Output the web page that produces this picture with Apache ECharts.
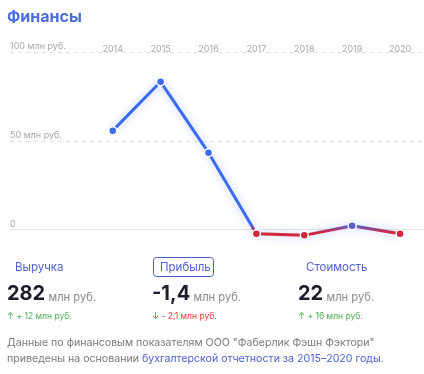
<!DOCTYPE html>
<html>
<head>
<meta charset="utf-8">
<script src="https://cdn.jsdelivr.net/npm/echarts@6/dist/echarts.min.js"></script>
<style>
html,body{margin:0;padding:0;background:#fff;}
#chart{width:424px;height:374px;}
</style>
</head>
<body>
<div id="chart"></div>
<script>
var years = ['2014', '2015', '2016', '2017', '2018', '2019', '2020'];
var profit = [55.7, 83.2, 43.3, -2.4, -3.3, 2.1, -2.4];
var yTicks = {0: '0', 50: '50 млн руб.', 100: '100 млн руб.'};

var FONT = 'Inter, Roboto, "Noto Sans", sans-serif';
var chart = echarts.init(document.getElementById('chart'), null, {renderer: 'canvas'});

var gTop = 52, gBottom = 144.5;
var valRich = {
  a: {font: 'bold 20px ' + FONT, fill: '#1d1d2b', verticalAlign: 'bottom'},
  b: {font: '11.2px ' + FONT, fill: '#8a8a8a', verticalAlign: 'bottom', padding: [0, 0, 1, 0]}
};

chart.setOption({
  animation: false,
  grid: [
    {left: 10, right: 0, top: gTop, bottom: gBottom},
    {left: 88.8, width: 338.4, top: gTop, bottom: gBottom}
  ],
  xAxis: [
    {gridIndex: 0, type: 'value', min: 0, max: 1,
     axisLine: {show: true, lineStyle: {color: '#e6e6e6', width: 1}},
     axisTick: {show: false}, axisLabel: {show: false}, splitLine: {show: false}},
    {gridIndex: 1, type: 'category', data: years, position: 'top', boundaryGap: true,
     axisLine: {show: false}, axisTick: {show: false}, splitLine: {show: false},
     axisLabel: {color: '#a8a8a8', fontSize: 9, fontFamily: FONT, margin: -2, verticalAlign: 'bottom'}}
  ],
  yAxis: [
    {gridIndex: 0, type: 'value', min: 0, max: 100, interval: 50,
     axisLine: {show: false}, axisTick: {show: false},
     splitLine: {show: true, lineStyle: {color: '#e0e0e0', type: [4, 4], width: 1}},
     axisLabel: {inside: true, margin: 0, align: 'left', verticalAlign: 'bottom',
       color: '#a8a8a8', fontSize: 9, fontFamily: FONT, padding: [0, 0, 1, 0],
       formatter: function (v) { return yTicks[v] !== undefined ? yTicks[v] : ''; }}},
    {gridIndex: 1, type: 'value', min: 0, max: 100, show: false}
  ],
  visualMap: {
    type: 'continuous', show: false, seriesIndex: 0, dimension: 1,
    min: -1.5, max: 3, inRange: {color: ['#d2263a', '#3b6cf0']}
  },
  series: [{
    type: 'line', xAxisIndex: 1, yAxisIndex: 1, data: profit, clip: false,
    symbol: 'circle', symbolSize: 8,
    lineStyle: {width: 3, shadowBlur: 8, shadowColor: 'rgba(70,100,240,0.4)'},
    itemStyle: {borderColor: '#fff', borderWidth: 1.5}
  }],
  graphic: [
    {type: 'text', left: 7, top: 9, style: {text: 'Финансы', font: 'bold 16px ' + FONT, fill: '#4a6de0'}},
    {type: 'text', left: 15, top: 262, style: {text: 'Выручка', font: '11.5px ' + FONT, fill: '#5262d2'}},
    {type: 'rect', shape: {x: 153.5, y: 257.5, width: 60, height: 19, r: 3},
     style: {fill: 'none', stroke: '#4a5fc2', lineWidth: 1}},
    {type: 'text', left: 160, top: 262, style: {text: 'Прибыль', font: '11.5px ' + FONT, fill: '#5262d2'}},
    {type: 'text', left: 306, top: 262, style: {text: 'Стоимость', font: '11.5px ' + FONT, fill: '#5262d2'}},
    {type: 'text', left: 7, top: 284, style: {text: '{a|282} {b|млн руб.}', rich: valRich}},
    {type: 'text', left: 152, top: 284, style: {text: '{a|-1,4} {b|млн руб.}', rich: valRich}},
    {type: 'text', left: 298, top: 284, style: {text: '{a|22} {b|млн руб.}', rich: valRich}},
    {type: 'text', left: 7, top: 312, style: {text: '↑ + 12 млн руб.', font: '8.5px ' + FONT, fill: '#4caf50'}},
    {type: 'text', left: 152, top: 312, style: {text: '↓ - 2,1 млн руб.', font: '8.5px ' + FONT, fill: '#e53935'}},
    {type: 'text', left: 298, top: 312, style: {text: '↑ + 16 млн руб.', font: '8.5px ' + FONT, fill: '#4caf50'}},
    {type: 'text', left: 7, top: 337, style: {text: 'Данные по финансовым показателям ООО "Фаберлик Фэшн Фэктори"', font: '10.6px ' + FONT, fill: '#7a7a7a'}},
    {type: 'text', left: 7, top: 353, style: {text: '{g|приведены на основании }{l|бухгалтерской отчетности за 2015–2020 годы}{g|.}',
      rich: {g: {font: '10.6px ' + FONT, fill: '#7a7a7a'}, l: {font: '10.6px ' + FONT, fill: '#4a5fd0'}}}}
  ]
});
</script>
</body>
</html>
